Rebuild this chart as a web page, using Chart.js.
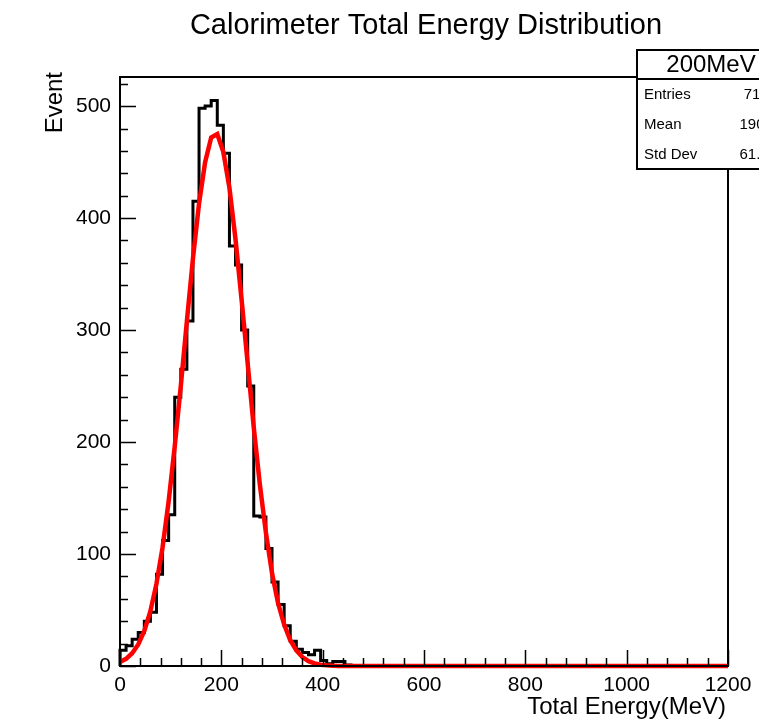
<!DOCTYPE html>
<html>
<head>
  <title>Calorimeter Total Energy Distribution</title>
  <script src="https://cdn.jsdelivr.net/npm/chart.js"></script>
  <style>
    body {
      margin: 0;
      background: white;
    }
    #wrap {
      width: 759px;
      height: 723px;
    }
  </style>
</head>
<body>
  <div id="wrap"><canvas id="hist" width="759" height="723"></canvas></div>

  <script>
    // histogram: 100 bins of 12 MeV from 0 to 1200
    const binWidth = 12;
    const histCounts = [
      14, 18, 24, 30, 40, 48, 82, 112, 135, 240,
      265, 308, 415, 498, 500, 505, 483, 458, 375, 358,
      300, 250, 134, 133, 105, 75, 55, 36, 22, 15,
      12, 10, 14, 5, 2, 4, 4, 1, 0, 0,
      0, 0, 0, 0, 0, 0, 0, 0, 0, 0,
      0, 0, 0, 0, 0, 0, 0, 0, 0, 0,
      0, 0, 0, 0, 0, 0, 0, 0, 0, 0,
      0, 0, 0, 0, 0, 0, 0, 0, 0, 0,
      0, 0, 0, 0, 0, 0, 0, 0, 0, 0,
      0, 0, 0, 0, 0, 0, 0, 0, 0, 0
    ];

    // gaussian fit curve, read every 12 MeV (0 .. 432), flat zero after
    const fitStep = 12;
    const fitValues = [
      3.5, 6.4, 11.4, 19.2, 31.3, 48.9, 73.5, 106, 147, 196,
      250, 308, 364, 413, 450, 472, 475, 459, 427, 381,
      327, 270, 213, 162, 119, 83, 56, 37, 23, 14,
      8, 4.3, 2.3, 1.2, 0.6, 0.3, 0
    ];
    const fitEnd = 1200;

    const xTickValues = [0, 200, 400, 600, 800, 1000, 1200];
    const yTickValues = [0, 100, 200, 300, 400, 500];
    const xMinorStep = 40;
    const yMinorStep = 20;
    const xMax = 1200;
    const yMax = 526;

    const statsTitle = "200MeV";
    const statsRows = [
      ["Entries", "7100"],
      ["Mean", "190.3"],
      ["Std Dev", "61.55"]
    ];

    const FONT = '"Liberation Sans", Arial, Helvetica, sans-serif';

    const histPoints = [{ x: 0, y: 0 }];
    histCounts.forEach((v, i) => histPoints.push({ x: i * binWidth, y: v }));
    histPoints.push({ x: histCounts.length * binWidth, y: histCounts[histCounts.length - 1] });

    const fitPoints = fitValues.map((v, i) => ({ x: i * fitStep, y: v }));
    fitPoints.push({ x: fitEnd, y: 0 });

    const rootFrame = {
      id: "rootFrame",
      afterDatasetsDraw(chart) {
        const ctx = chart.ctx;
        const a = chart.chartArea;
        const xs = chart.scales.x;
        const ys = chart.scales.y;
        ctx.save();
        ctx.strokeStyle = "#000";
        ctx.lineWidth = 2;
        ctx.strokeRect(a.left, a.top, a.right - a.left, a.bottom - a.top);

        ctx.lineWidth = 1.5;
        ctx.beginPath();
        for (let v = 0; v <= xMax; v += xMinorStep) {
          const px = Math.round(xs.getPixelForValue(v)) + 0.5;
          const len = xTickValues.includes(v) ? 16 : 8;
          ctx.moveTo(px, a.bottom);
          ctx.lineTo(px, a.bottom - len);
        }
        for (let v = 0; v <= yMax; v += yMinorStep) {
          const py = Math.round(ys.getPixelForValue(v)) + 0.5;
          const len = yTickValues.includes(v) ? 16 : 8;
          ctx.moveTo(a.left, py);
          ctx.lineTo(a.left + len, py);
        }
        ctx.stroke();
        ctx.restore();
      },
      afterDraw(chart) {
        const ctx = chart.ctx;
        const a = chart.chartArea;
        ctx.save();
        ctx.fillStyle = "#000";

        // title
        ctx.font = "29px " + FONT;
        ctx.textAlign = "center";
        ctx.textBaseline = "middle";
        ctx.fillText("Calorimeter Total Energy Distribution", 426, 26);

        // axis titles
        ctx.font = "24px " + FONT;
        ctx.textAlign = "right";
        ctx.fillText("Total Energy(MeV)", a.right - 2, 707);
        ctx.save();
        ctx.translate(55, 72);
        ctx.rotate(-Math.PI / 2);
        ctx.textAlign = "right";
        ctx.fillText("Event", 0, 0);
        ctx.restore();

        // stats box
        const bx = 637, by = 50, bw = 150, bh = 119;
        ctx.fillStyle = "#fff";
        ctx.fillRect(bx, by, bw, bh);
        ctx.strokeStyle = "#000";
        ctx.lineWidth = 2;
        ctx.strokeRect(bx, by, bw, bh);
        ctx.beginPath();
        ctx.moveTo(bx, 79);
        ctx.lineTo(bx + bw, 79);
        ctx.stroke();

        ctx.fillStyle = "#000";
        ctx.font = "24px " + FONT;
        ctx.textAlign = "center";
        ctx.fillText(statsTitle, 711, 65);

        ctx.font = "15px " + FONT;
        statsRows.forEach((row, i) => {
          const y = 95 + i * 30;
          ctx.textAlign = "left";
          ctx.fillText(row[0], 644, y);
          ctx.textAlign = "right";
          ctx.fillText(row[1], 777, y);
        });
        ctx.restore();
      }
    };

    new Chart(document.getElementById("hist").getContext("2d"), {
      type: "line",
      data: {
        datasets: [
          {
            label: "fit",
            data: fitPoints,
            borderColor: "#ff0000",
            borderWidth: 4.5,
            pointRadius: 0,
            tension: 0,
            fill: false,
            clip: false,
            order: 0
          },
          {
            label: "200MeV",
            data: histPoints,
            borderColor: "#000000",
            borderWidth: 3,
            pointRadius: 0,
            stepped: true,
            fill: false,
            clip: false,
            order: 1
          }
        ]
      },
      options: {
        animation: false,
        responsive: false,
        maintainAspectRatio: false,
        layout: {
          padding: { top: 77, right: 31, left: 0, bottom: 0 }
        },
        plugins: {
          legend: { display: false },
          tooltip: { enabled: false },
          title: { display: false }
        },
        scales: {
          x: {
            type: "linear",
            min: 0,
            max: xMax,
            afterBuildTicks: s => { s.ticks = xTickValues.map(v => ({ value: v })); },
            afterFit: s => { s.height = 57; },
            grid: { display: false, drawTicks: false },
            border: { display: false },
            ticks: {
              padding: 7,
              color: "#000",
              font: { family: FONT, size: 21 },
              maxRotation: 0,
              autoSkip: false,
              callback: v => String(v)
            }
          },
          y: {
            type: "linear",
            min: 0,
            max: yMax,
            afterBuildTicks: s => { s.ticks = yTickValues.map(v => ({ value: v })); },
            afterFit: s => { s.width = 120; },
            grid: { display: false, drawTicks: false },
            border: { display: false },
            ticks: {
              padding: 9,
              color: "#000",
              font: { family: FONT, size: 21 },
              callback: v => String(v)
            }
          }
        }
      },
      plugins: [rootFrame]
    });
  </script>
</body>
</html>
